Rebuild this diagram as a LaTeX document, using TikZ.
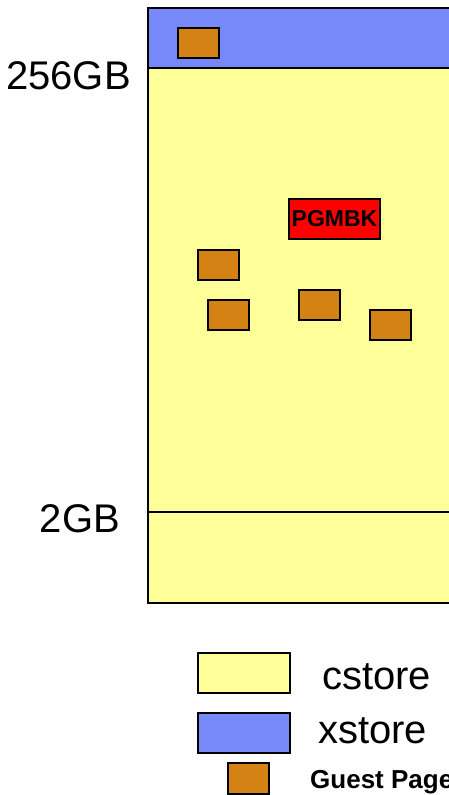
\documentclass[tikz,border=0pt]{standalone}
\usepackage{fontspec}
\setmainfont{Liberation Sans}
\definecolor{cyel}{HTML}{FFFF99}
\definecolor{xblue}{HTML}{7788F8}
\definecolor{gpage}{HTML}{D48214}
\definecolor{pgred}{HTML}{FF0000}
\begin{document}
\begin{tikzpicture}[x=1pt,y=-1pt,
  edge/.style={draw=black,line width=1.4pt},
  pagebox/.style={edge,fill=gpage},
  lbl/.style={inner sep=0pt,font=\fontsize{40}{40}\selectfont},
  leglbl/.style={inner sep=0pt,anchor=base west,font=\fontsize{40}{40}\selectfont}]
\useasboundingbox (0,0) rectangle (449,795);
\clip (0,0) rectangle (449,795);
% memory column: cstore body with xstore band on top
\fill[cyel] (148,8) rectangle (470,603);
\fill[xblue] (148,8) rectangle (470,68);
\draw[edge] (470,8) -- (148,8) -- (148,603) -- (470,603);
\draw[edge] (148,68) coordinate (t0) -- (470,68) coordinate (t1);
\draw[edge] (148,512) coordinate (b0) -- (470,512) coordinate (b1);
% address labels
\node[lbl,anchor=base east] (l256) at (131,89) {256GB};
\node[lbl,anchor=base east] (l2) at (120,532) {2GB};
% guest pages
\draw[pagebox] (178,28) rectangle (219,58);
\draw[pagebox] (198,250) rectangle (239,280);
\draw[pagebox] (208,300) rectangle (249,330);
\draw[pagebox] (299,290) rectangle (340,320);
\draw[pagebox] (370,310) rectangle (411,340);
% page-management block
\node[edge,fill=pgred,minimum width=91pt,minimum height=40pt,inner sep=0pt,
  font=\bfseries\fontsize{23}{23}\selectfont] (pgmbk) at (334.5,219) {PGMBK};
% legend
\draw[edge,fill=cyel] (198,653) rectangle (290,693);
\node[leglbl] (lc) at (322,689) {cstore};
\draw[edge,fill=xblue] (198,713) rectangle (290,753);
\node[leglbl] (lx) at (318,743) {xstore};
\draw[pagebox] (228,763) rectangle (269,794);
\node[inner sep=0pt,anchor=base west,font=\bfseries\fontsize{26}{26}\selectfont] (lg) at (310,788) {Guest Page};
\end{tikzpicture}
\end{document}
